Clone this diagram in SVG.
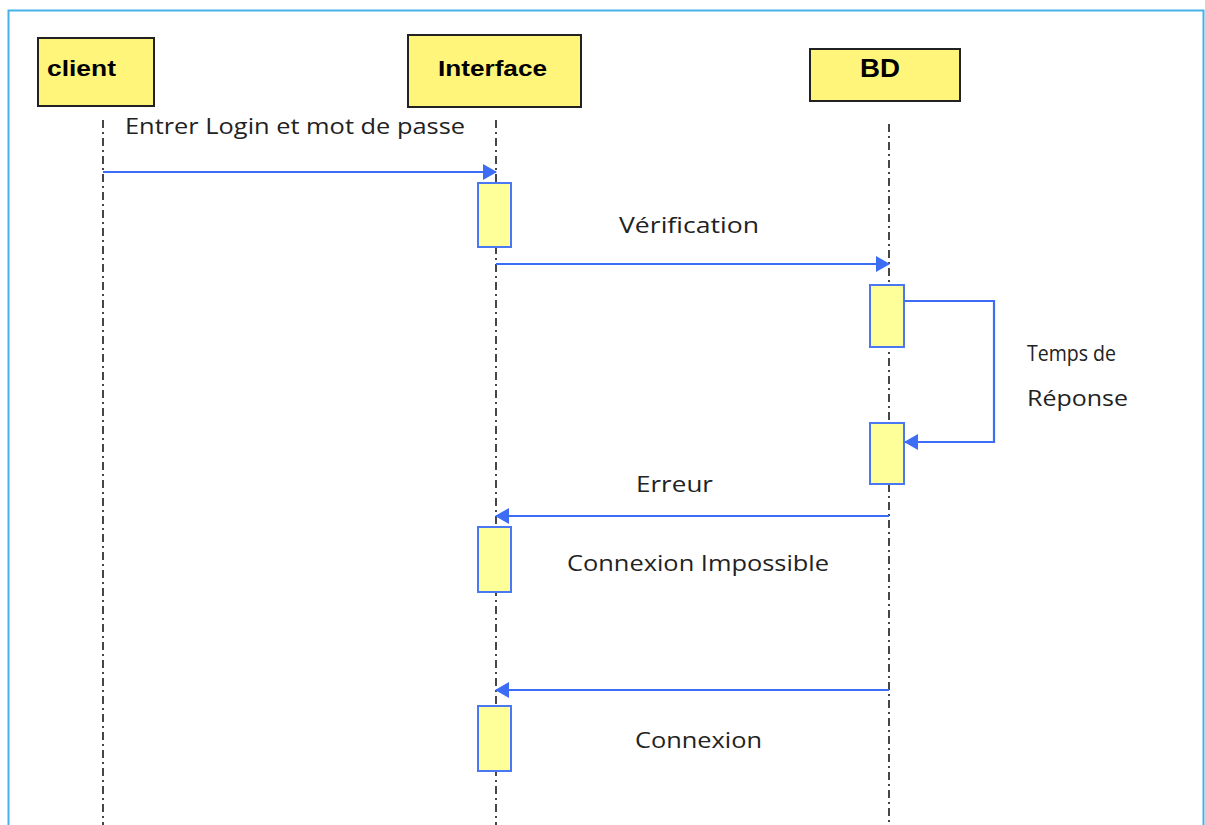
<svg xmlns="http://www.w3.org/2000/svg" width="1205" height="825" viewBox="0 0 1205 825">
<defs>
<style>
.hdr{fill:#fff57a;stroke:#222;stroke-width:2}
.hdrt{font-family:"Liberation Sans",Arial,sans-serif;font-weight:bold;fill:#000}
.life{stroke:#333;stroke-width:1.8;stroke-dasharray:8 4 2 4;fill:none}
.act{fill:#ffff99;stroke:#4a78f5;stroke-width:2}
.msg{stroke:#3d6cf5;stroke-width:2.2;fill:none}
.lbl{font-family:"Open Sans","Liberation Sans",sans-serif;font-size:22px;fill:#222}
</style>
<marker id="ah" viewBox="0 0 14 16" refX="13" refY="8" markerWidth="14" markerHeight="16" markerUnits="userSpaceOnUse" orient="auto">
<path d="M0,0 L14,8 L0,16 z" fill="#3d6cf5"/>
</marker>
</defs>
<rect x="0" y="0" width="1205" height="825" fill="#fff"/>
<path d="M8.5,825 V10.5 H1203.5 V825" fill="none" stroke="#45b3ea" stroke-width="2"/>

<g id="lifelines">
<line class="life" x1="103" y1="120" x2="103" y2="825"/>
<line class="life" x1="496" y1="120" x2="496" y2="825"/>
<line class="life" x1="889" y1="124" x2="889" y2="825"/>
</g>

<g id="client">
<rect class="hdr" x="38" y="38" width="116" height="68"/>
<text class="hdrt" x="47" y="76" font-size="22" textLength="69" lengthAdjust="spacingAndGlyphs">client</text>
</g>
<g id="interface">
<rect class="hdr" x="408" y="35" width="173" height="72"/>
<text class="hdrt" x="438" y="76" font-size="22" textLength="109" lengthAdjust="spacingAndGlyphs">Interface</text>
</g>
<g id="bd">
<rect class="hdr" x="810" y="49" width="150" height="52"/>
<text class="hdrt" x="860" y="77" font-size="25" textLength="40" lengthAdjust="spacingAndGlyphs">BD</text>
</g>

<g id="activations">
<rect class="act" x="478" y="183" width="33" height="64"/>
<rect class="act" x="870" y="285" width="34" height="62"/>
<rect class="act" x="870" y="423" width="34" height="61"/>
<rect class="act" x="478" y="527" width="33" height="65"/>
<rect class="act" x="478" y="706" width="33" height="65"/>
</g>

<g id="connectors">
<line class="msg" x1="103" y1="172" x2="496" y2="172" marker-end="url(#ah)"/>
<line class="msg" x1="496" y1="264" x2="889" y2="264" marker-end="url(#ah)"/>
<polyline class="msg" points="904,301 994,301 994,442 905,442" marker-end="url(#ah)"/>
<line class="msg" x1="889" y1="516" x2="496" y2="516" marker-end="url(#ah)"/>
<line class="msg" x1="889" y1="690" x2="496" y2="690" marker-end="url(#ah)"/>
</g>

<g id="labels">
<text class="lbl" x="125" y="134" textLength="340" lengthAdjust="spacingAndGlyphs">Entrer Login et mot de passe</text>
<text class="lbl" x="619" y="233" textLength="140" lengthAdjust="spacingAndGlyphs">Vérification</text>
<text class="lbl" x="1027" y="361" textLength="89" lengthAdjust="spacingAndGlyphs">Temps de</text>
<text class="lbl" x="1027" y="406" textLength="101" lengthAdjust="spacingAndGlyphs">Réponse</text>
<text class="lbl" x="636" y="492" textLength="77" lengthAdjust="spacingAndGlyphs">Erreur</text>
<text class="lbl" x="567" y="571" textLength="262" lengthAdjust="spacingAndGlyphs">Connexion Impossible</text>
<text class="lbl" x="635" y="748" textLength="127" lengthAdjust="spacingAndGlyphs">Connexion</text>
</g>
</svg>
